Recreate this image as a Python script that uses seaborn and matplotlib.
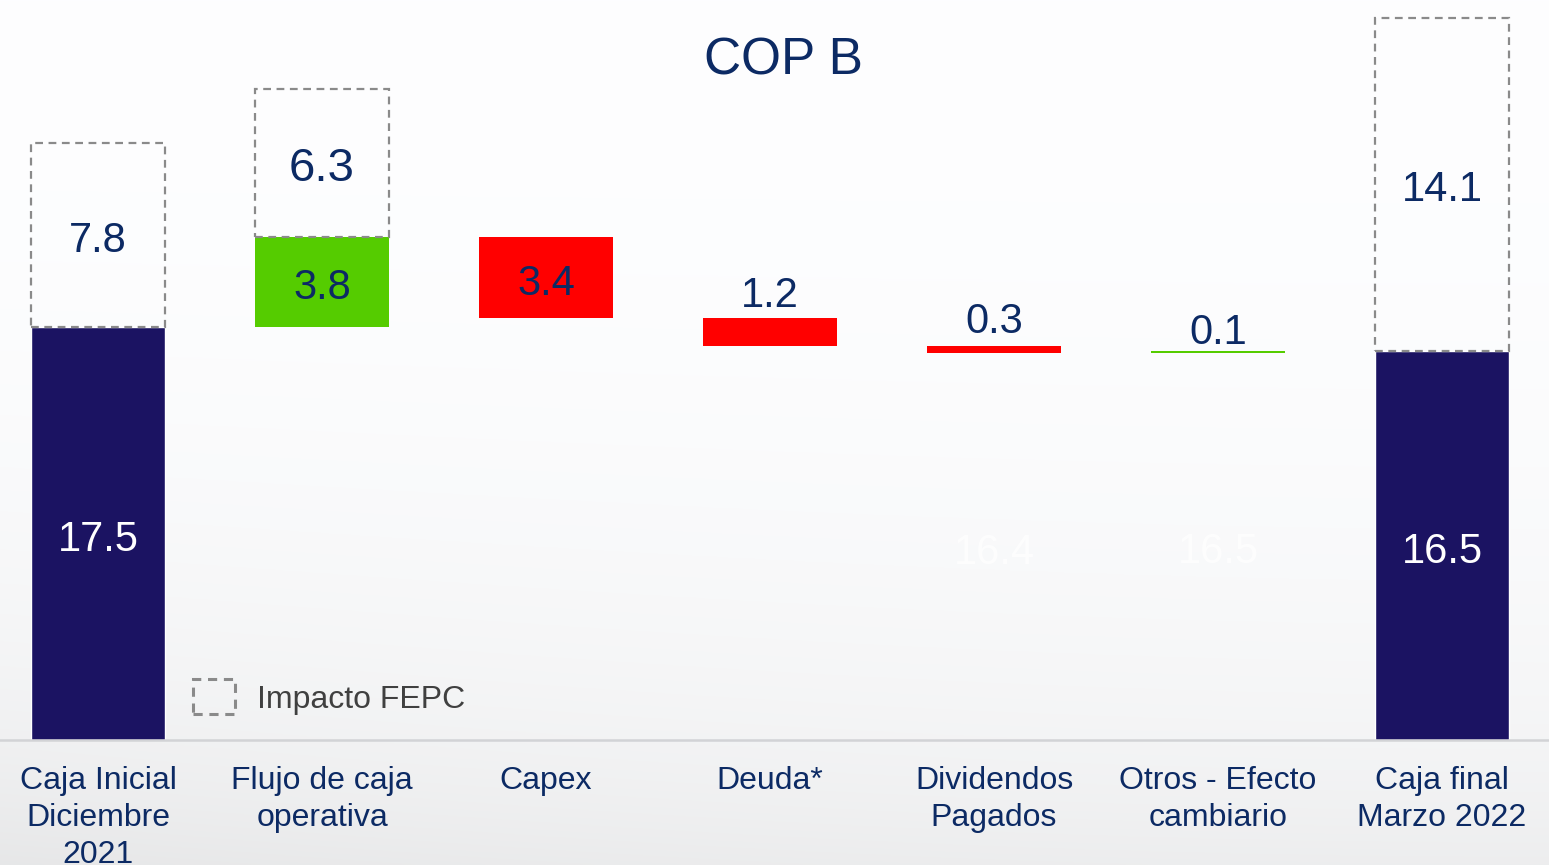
import numpy as np
import pandas as pd
import matplotlib
matplotlib.use("Agg")
import matplotlib.pyplot as plt
from matplotlib.patches import Patch
import seaborn as sns

# ---- data (COP billones) ----
categories = [
    "Caja Inicial\nDiciembre\n2021",
    "Flujo de caja\noperativa",
    "Capex",
    "Deuda*",
    "Dividendos\nPagados",
    "Otros - Efecto\ncambiario",
    "Caja final\nMarzo 2022",
]
caja_inicial = 17.5
movimientos = [3.8, -3.4, -1.2, -0.3, 0.1]
caja_final = 16.5
impacto_fepc = [7.8, 6.3, None, None, None, None, 14.1]
titulo = "COP B"
leyenda = "Impacto FEPC"

# ---- styling ----
NAVY_BAR = "#1b1362"
NAVY_TXT = "#0c2a64"
GREEN = "#55cc00"
RED = "#ff0000"
DASH_GRAY = "#8a8a8a"
DROP = -4.5  # visual centring nudge for value labels (points)

sns.set_theme(style="white")
plt.rcParams["font.family"] = ["Liberation Sans", "DejaVu Sans"]

fig = plt.figure(figsize=(15.49, 8.65), dpi=100)

# soft light background gradient
bg = fig.add_axes([0, 0, 1, 1], zorder=0)
h = np.linspace(0, 1, 400)[:, None]
w = np.linspace(0, 1, 400)[None, :]
shade = 1.0 - 0.045 * h ** 2.2 - 0.025 * h ** 3 * (1 - w) ** 2 - 0.02 * h ** 8
rgb = np.stack([shade * 0.994, shade * 0.996, shade * 1.0], axis=-1).clip(0, 1)
bg.imshow(rgb, aspect="auto", extent=[0, 1, 0, 1], origin="upper")
bg.set_axis_off()

base_px = 740.0
ax = fig.add_axes([0, (865 - base_px) / 865, 1, base_px / 865], zorder=1)
ax.patch.set_alpha(0)

n = len(categories)
# running cash levels
niveles = [caja_inicial]
for m in movimientos:
    niveles.append(round(niveles[-1] + m, 2))

totales = pd.DataFrame({
    "categoria": [categories[0], categories[-1]],
    "valor": [caja_inicial, caja_final],
})
sns.barplot(data=totales, x="categoria", y="valor", order=categories,
            color=NAVY_BAR, saturation=1, width=0.6, ax=ax, zorder=2)

# floating movement bars
for i, m in enumerate(movimientos, start=1):
    prev, cur = niveles[i - 1], niveles[i]
    ax.bar(i, abs(m), bottom=min(prev, cur), width=0.6,
           color=GREEN if m > 0 else RED, linewidth=0, zorder=2)


def centre_label(x, y, txt, size=30, color=NAVY_TXT, alpha=1.0, z=4):
    ax.annotate(txt, (x, y), xytext=(0, DROP), textcoords="offset points",
                ha="center", va="center", fontsize=size, color=color,
                alpha=alpha, zorder=z)


# dashed FEPC boxes stacked on the bar tops
tops = [caja_inicial, niveles[1], None, None, None, None, caja_final]
for i, v in enumerate(impacto_fepc):
    if v is None:
        continue
    ax.bar(i, v, bottom=tops[i], width=0.6, facecolor="none",
           edgecolor=DASH_GRAY, linestyle=(0, (3.5, 2.5)), linewidth=1.6, zorder=3)
    centre_label(i, tops[i] + v / 2, f"{v:.1f}", size=34 if i == 1 else 30)

# labels on totals
centre_label(0, caja_inicial / 2, f"{caja_inicial:.1f}", color="white")
centre_label(n - 1, caja_final / 2, f"{caja_final:.1f}", color="white")

# labels on movements
gaps = {3: 2, 4: 4, 5: -2}
for i, m in enumerate(movimientos, start=1):
    prev, cur = niveles[i - 1], niveles[i]
    lo, hi = min(prev, cur), max(prev, cur)
    if abs(m) >= 2:
        centre_label(i, (lo + hi) / 2, f"{abs(m):.1f}")
    else:
        ax.annotate(f"{abs(m):.1f}", (i, hi), xytext=(0, gaps.get(i, 2) * 0.72),
                    textcoords="offset points", ha="center", va="bottom",
                    fontsize=30, color=NAVY_TXT, zorder=4)

# faint running-level labels
for i in (4, 5):
    centre_label(i, niveles[i] / 2, f"{niveles[i]:.1f}", color="white",
                 alpha=0.75, z=1.5)

# axes limits & spines
ax.set_xlim(-98 / 224, (1549 - 98) / 224)
ax.set_ylim(0, base_px / 23.6)
ax.set_yticks([])
ax.set_ylabel("")
ax.set_xlabel("")
for s in ("left", "right", "top"):
    ax.spines[s].set_visible(False)
ax.spines["bottom"].set_color("#d2d3d6")
ax.spines["bottom"].set_linewidth(1.8)
ax.set_xticks(range(n))
ax.set_xticklabels(categories, fontsize=23, color=NAVY_TXT, linespacing=1.29)
ax.tick_params(axis="x", length=0, pad=19)

# title
fig.text(783 / 1549, 1 - 61 / 865, titulo, ha="center", va="center",
         fontsize=37, color=NAVY_TXT)

# legend
handle = Patch(facecolor="none", edgecolor=DASH_GRAY, linestyle=(0, (3, 2.2)),
               linewidth=2.2, label=leyenda)
leg = ax.legend(handles=[handle], loc="center left",
                bbox_to_anchor=(193 / 1549, (865 - 697) / 865),
                bbox_transform=fig.transFigure, frameon=False, fontsize=23,
                handlelength=1.3, handleheight=1.3, handletextpad=0.7,
                borderpad=0, borderaxespad=0)
for t in leg.get_texts():
    t.set_color("#404040")

fig.savefig("out.png", dpi=100)
